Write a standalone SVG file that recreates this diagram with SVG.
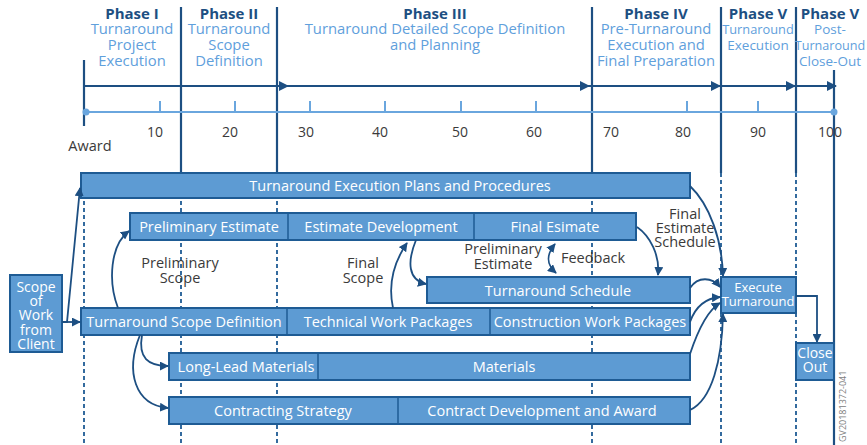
<svg xmlns="http://www.w3.org/2000/svg" width="867" height="445" viewBox="0 0 867 445">
<style>
text{font-family:"Open Sans","Liberation Sans",sans-serif}
.ph{font-size:15px;font-weight:bold;fill:#1d4f82;text-anchor:middle}
.sub{font-size:14.8px;fill:#5fa0dc;text-anchor:middle}
.num{font-size:14px;fill:#3a3a3a;text-anchor:middle}
.lbl{font-size:14.5px;fill:#3a3a3a;text-anchor:middle}
.bar{fill:#5d9bd3;stroke:#1e5b94;stroke-width:2}
.bt{font-size:14.5px;fill:#ffffff;text-anchor:middle}
.div{stroke:#1e5b94;stroke-width:1.5}
.solid{stroke:#1d4f82;stroke-width:2.2;fill:none}
.dash{stroke:#1e5b94;stroke-width:1.8;stroke-dasharray:4 3;fill:none}
.con{stroke:#1d4f82;stroke-width:1.8;fill:none;marker-end:url(#ah)}
.tl{stroke:#1d4f82;stroke-width:2;fill:none;marker-end:url(#ah)}
</style>
<defs>
<marker id="ah" viewBox="0 0 10 10" refX="9" refY="5" markerWidth="5" markerHeight="5" orient="auto" markerUnits="strokeWidth">
<path d="M0 0 L10 5 L0 10 Z" fill="#1d4f82"/>
</marker>
<marker id="ahs" viewBox="0 0 10 10" refX="1" refY="5" markerWidth="5" markerHeight="5" orient="auto" markerUnits="strokeWidth">
<path d="M10 0 L0 5 L10 10 Z" fill="#1d4f82"/>
</marker>
</defs>
<rect width="867" height="445" fill="#ffffff"/>

<g id="grid">
<line class="dash" x1="84" y1="173" x2="84" y2="445"/>
<line class="dash" x1="181" y1="173" x2="181" y2="445"/>
<line class="dash" x1="277" y1="173" x2="277" y2="445"/>
<line class="dash" x1="592" y1="173" x2="592" y2="445"/>
<line class="dash" x1="721" y1="173" x2="721" y2="445"/>
<line class="dash" x1="796" y1="173" x2="796" y2="445"/>
<line class="solid" x1="181" y1="7" x2="181" y2="173"/>
<line class="solid" x1="277" y1="7" x2="277" y2="173"/>
<line class="solid" x1="592" y1="7" x2="592" y2="173"/>
<line class="solid" x1="721" y1="7" x2="721" y2="173"/>
<line class="solid" x1="796" y1="7" x2="796" y2="173"/>
<line class="solid" x1="84" y1="60" x2="84" y2="126"/>
<line class="solid" x1="834" y1="70" x2="834" y2="445"/>
</g>

<g id="timeline">
<line x1="85" y1="112" x2="834" y2="112" stroke="#6aa6de" stroke-width="2"/>
<circle cx="86" cy="112" r="3.5" fill="#6aa6de"/>
<circle cx="834" cy="112" r="3.5" fill="#6aa6de"/>
<g stroke="#6aa6de" stroke-width="2">
<line x1="160" y1="101" x2="160" y2="112"/>
<line x1="235" y1="101" x2="235" y2="112"/>
<line x1="310" y1="101" x2="310" y2="112"/>
<line x1="385" y1="101" x2="385" y2="112"/>
<line x1="461" y1="101" x2="461" y2="112"/>
<line x1="536" y1="101" x2="536" y2="112"/>
<line x1="687" y1="101" x2="687" y2="112"/>
<line x1="758" y1="101" x2="758" y2="112"/>
</g>
<path class="tl" d="M84 86 H288"/>
<path class="tl" d="M288 86 H589"/>
<path class="tl" d="M589 86 H720"/>
<path class="tl" d="M720 86 H795"/>
<path class="tl" d="M795 86 H836"/>
<text class="num" x="155" y="137">10</text>
<text class="num" x="230" y="137">20</text>
<text class="num" x="306" y="137">30</text>
<text class="num" x="380" y="137">40</text>
<text class="num" x="460" y="137">50</text>
<text class="num" x="534" y="137">60</text>
<text class="num" x="611" y="137">70</text>
<text class="num" x="683" y="137">80</text>
<text class="num" x="758" y="137">90</text>
<text class="num" x="830" y="137">100</text>
<text class="lbl" x="90" y="151">Award</text>
</g>

<g id="phases">
<text class="ph" x="132" y="19">Phase I</text>
<text class="sub" x="132" y="34">Turnaround</text>
<text class="sub" x="132" y="50">Project</text>
<text class="sub" x="132" y="66">Execution</text>
<text class="ph" x="229" y="19">Phase II</text>
<text class="sub" x="229" y="34">Turnaround</text>
<text class="sub" x="229" y="50">Scope</text>
<text class="sub" x="229" y="66">Definition</text>
<text class="ph" x="435" y="19">Phase III</text>
<text class="sub" x="435" y="34">Turnaround Detailed Scope Definition</text>
<text class="sub" x="435" y="50">and Planning</text>
<text class="ph" x="656" y="19">Phase IV</text>
<text class="sub" x="656" y="34">Pre-Turnaround</text>
<text class="sub" x="656" y="50">Execution and</text>
<text class="sub" x="656" y="66">Final Preparation</text>
<text class="ph" x="758" y="19">Phase V</text>
<text class="sub" x="758" y="34" style="font-size:12.8px">Turnaround</text>
<text class="sub" x="758" y="50" style="font-size:13.5px">Execution</text>
<text class="ph" x="830" y="19">Phase V</text>
<text class="sub" x="830" y="34" style="font-size:13.5px">Post-</text>
<text class="sub" x="830" y="50" style="font-size:12.6px">Turnaround</text>
<text class="sub" x="830" y="66" style="font-size:13.5px">Close-Out</text>
</g>

<g id="tep">
<rect class="bar" x="81" y="173" width="609" height="25"/>
<text class="bt" x="400" y="190.5">Turnaround Execution Plans and Procedures</text>
</g>
<g id="estimates">
<rect class="bar" x="130" y="213" width="506" height="27"/>
<line class="div" x1="288" y1="213" x2="288" y2="240"/>
<line class="div" x1="474" y1="213" x2="474" y2="240"/>
<text class="bt" x="209" y="231.5">Preliminary Estimate</text>
<text class="bt" x="381" y="231.5">Estimate Development</text>
<text class="bt" x="555" y="231.5">Final Esimate</text>
</g>
<g id="schedule">
<rect class="bar" x="427" y="277" width="263" height="26"/>
<text class="bt" x="558" y="295.5">Turnaround Schedule</text>
</g>
<g id="scope-def">
<rect class="bar" x="81" y="308" width="609" height="27"/>
<line class="div" x1="287" y1="308" x2="287" y2="335"/>
<line class="div" x1="490" y1="308" x2="490" y2="335"/>
<text class="bt" x="184" y="326.5">Turnaround Scope Definition</text>
<text class="bt" x="388" y="326.5">Technical Work Packages</text>
<text class="bt" x="590" y="326.5">Construction Work Packages</text>
</g>
<g id="materials">
<rect class="bar" x="169" y="353" width="521" height="27"/>
<line class="div" x1="318" y1="353" x2="318" y2="380"/>
<text class="bt" x="246" y="371.5">Long-Lead Materials</text>
<text class="bt" x="504" y="371.5">Materials</text>
</g>
<g id="contracting">
<rect class="bar" x="169" y="397" width="521" height="27"/>
<line class="div" x1="398" y1="397" x2="398" y2="424"/>
<text class="bt" x="283" y="415.5">Contracting Strategy</text>
<text class="bt" x="542" y="415.5">Contract Development and Award</text>
</g>
<g id="scope-client">
<rect class="bar" x="10" y="275" width="52" height="77"/>
<text class="bt" x="36" y="292" style="font-size:14px">Scope</text>
<text class="bt" x="36" y="306" style="font-size:14px">of</text>
<text class="bt" x="36" y="320" style="font-size:14px">Work</text>
<text class="bt" x="36" y="335" style="font-size:14px">from</text>
<text class="bt" x="36" y="349" style="font-size:14px">Client</text>
</g>
<g id="execute">
<rect class="bar" x="721" y="277" width="75" height="36"/>
<text class="bt" x="758" y="292" style="font-size:13px">Execute</text>
<text class="bt" x="758" y="306" style="font-size:13px">Turnaround</text>
</g>
<g id="closeout">
<rect class="bar" x="796" y="343" width="38" height="37"/>
<text class="bt" x="815" y="358" style="font-size:14px">Close</text>
<text class="bt" x="815" y="372" style="font-size:14px">Out</text>
</g>

<g id="connectors">
<path class="con" d="M62 322 H67 L80 188"/>
<path class="con" d="M67 322 H80"/>
<path class="con" d="M118 308 C108 282 110 245 129 231"/>
<path class="con" d="M393 308 C388 285 394 262 407 243"/>
<path class="con" d="M416 240 C407 262 408 280 426 284"/>
<path class="con" d="M555 244 C546 255 546 264 556 273" style="marker-start:url(#ahs)"/>
<path class="con" d="M637 227 C650 236 660 255 658 275"/>
<path class="con" d="M690 186 C710 205 722 240 723 276"/>
<path class="con" d="M690 288 C698 276 712 277 720 287"/>
<path class="con" d="M690 322 C696 305 708 298 720 297"/>
<path class="con" d="M690 354 C698 330 708 310 720 303"/>
<path class="con" d="M690 410 C712 400 722 360 723 314"/>
<path class="con" d="M796 296 H817 V342"/>
<path class="con" d="M142 335 C138 358 148 366 168 366"/>
<path class="con" d="M140 335 C125 372 135 405 168 408"/>
</g>

<g id="labels">
<text class="lbl" x="180" y="268">Preliminary</text>
<text class="lbl" x="180" y="283">Scope</text>
<text class="lbl" x="363" y="268">Final</text>
<text class="lbl" x="363" y="283">Scope</text>
<text class="lbl" x="503" y="254">Preliminary</text>
<text class="lbl" x="503" y="269">Estimate</text>
<text class="lbl" x="593" y="263">Feedback</text>
<text class="lbl" x="685" y="219">Final</text>
<text class="lbl" x="685" y="233">Estimate</text>
<text class="lbl" x="685" y="247">Schedule</text>
<text x="846" y="442" transform="rotate(-90 846 442)" style="font-size:9px;fill:#808080">GV20181372-041</text>
</g>
</svg>
